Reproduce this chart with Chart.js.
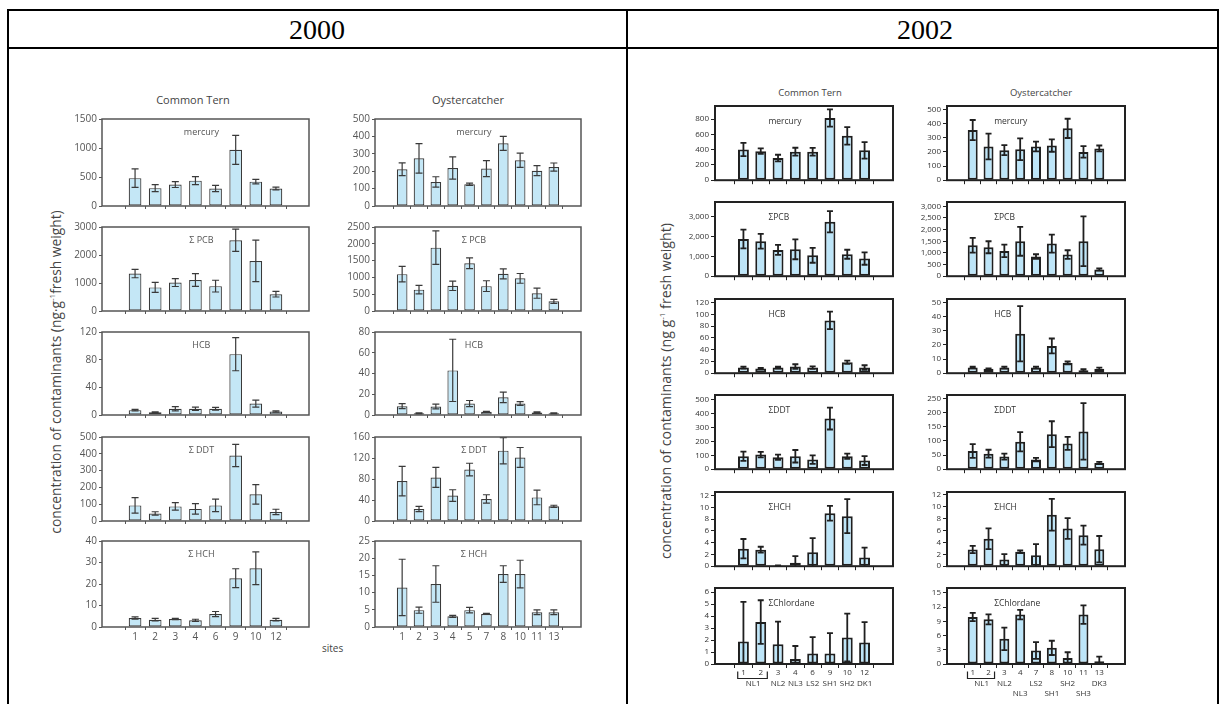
<!DOCTYPE html>
<html>
<head>
<meta charset="utf-8">
<title>Contaminants in Common Tern and Oystercatcher eggs, 2000 and 2002</title>
<script src="https://cdn.jsdelivr.net/npm/chart.js@4.4.1/dist/chart.umd.min.js"></script>
<style>
  html, body { margin: 0; padding: 0; background: #fff; }
  body { position: relative; width: 1225px; height: 704px; overflow: hidden; font-family: "Open Sans", sans-serif; }
  .rule { position: absolute; background: #000; }
  .year { position: absolute; top: 14px; line-height: 32px; font: 28px "Liberation Serif", "Times New Roman", serif; color: #000; transform: translateX(-50%); }
  .bird { position: absolute; transform: translate(-50%, -50%); white-space: nowrap; color: #444; }
  .ytitle { position: absolute; transform: translate(-50%, -50%) rotate(-90deg); white-space: nowrap; color: #444; }
  .sites { position: absolute; left: 322px; top: 641px; font-size: 10px; color: #444; }
  canvas { position: absolute; }
</style>
</head>
<body>

<div class="rule" style="left:7px; top:9px; width:1212px; height:2px"></div>
<div class="rule" style="left:7px; top:47px; width:1212px; height:2px"></div>
<div class="rule" style="left:7px; top:9px; width:2px; height:700px"></div>
<div class="rule" style="left:626px; top:9px; width:2px; height:700px"></div>
<div class="rule" style="left:1217px; top:9px; width:2px; height:700px"></div>
<div class="year" style="left:317px">2000</div>
<div class="year" style="left:925px">2002</div>

<div class="bird" style="left:193px; top:99px; font-size:11px">Common Tern</div>
<div class="bird" style="left:468px; top:99px; font-size:11px">Oystercatcher</div>
<div class="bird" style="left:810px; top:92px; font-size:9.5px">Common Tern</div>
<div class="bird" style="left:1041px; top:92px; font-size:9.5px">Oystercatcher</div>
<div class="ytitle" style="left:55px; top:372px; font-size:13.8px">concentration of contaminants (ng&middot;g<sup style="font-size:8px">-1</sup>fresh weight)</div>
<div class="ytitle" style="left:665px; top:391px; font-size:14.2px">concentration of contaminants (ng g<sup style="font-size:8px">-1</sup> fresh weight)</div>
<div class="sites">sites</div>

<script>
// ---------- 2000 ----------
const ternSites2000 = ['1', '2', '3', '4', '6', '9', '10', '12'];
const oysterSites2000 = ['1', '2', '3', '4', '5', '7', '8', '10', '11', '13'];

const ternMercury2000 = [480, 308, 369, 437, 302, 968, 420, 302];
const ternMercuryErr2000 = [160, 60, 50, 70, 55, 250, 40, 25];
const ternMercuryTicks2000 = [0, 500, 1000, 1500];
const ternPcb2000 = [1338, 842, 1015, 1108, 888, 2527, 1788, 600];
const ternPcbErr2000 = [150, 180, 140, 230, 210, 400, 740, 100];
const ternPcbTicks2000 = [0, 1000, 2000, 3000];
const ternHcb2000 = [7, 4, 9, 9, 9, 88, 16.5, 5];
const ternHcbErr2000 = [1, 0.5, 3, 2.5, 2, 24, 5, 1];
const ternHcbTicks2000 = [0, 40, 80, 120];
const ternDdt2000 = [93, 45, 87, 72, 93, 390, 159, 54];
const ternDdtErr2000 = [46, 10, 22, 31, 37, 66, 58, 16];
const ternDdtTicks2000 = [0, 100, 200, 300, 400, 500];
const ternHch2000 = [4.2, 3.4, 3.7, 3.1, 6.0, 22.7, 27.3, 3.4];
const ternHchErr2000 = [0.5, 0.6, 0.3, 0.5, 1.2, 4.4, 7.6, 0.6];
const ternHchTicks2000 = [0, 10, 20, 30, 40];

const oysterMercury2000 = [211, 274, 138, 218, 125, 215, 360, 263, 203, 224];
const oysterMercuryErr2000 = [37, 85, 30, 64, 7, 46, 40, 41, 29, 23];
const oysterMercuryTicks2000 = [0, 100, 200, 300, 400, 500];
const oysterPcb2000 = [1096, 635, 1885, 750, 1423, 740, 1106, 971, 529, 288];
const oysterPcbErr2000 = [230, 125, 500, 140, 160, 160, 150, 145, 150, 60];
const oysterPcbTicks2000 = [0, 500, 1000, 1500, 2000, 2500];
const oysterHcb2000 = [8.5, 1.6, 8.2, 43, 11, 3.1, 17, 11, 2.5, 1.6];
const oysterHcbErr2000 = [2.4, 0.5, 2.2, 30, 3, 0.5, 5, 1.8, 0.6, 0.5];
const oysterHcbTicks2000 = [0, 20, 40, 60, 80];
const oysterDdt2000 = [76, 23, 83, 48.5, 98, 42, 134, 121, 45, 28];
const oysterDdtErr2000 = [28, 5, 19, 11, 12, 8, 25, 19, 14, 2];
const oysterDdtTicks2000 = [0, 40, 80, 120, 160];
const oysterHch2000 = [11.5, 4.9, 12.5, 3.1, 4.9, 3.8, 15.4, 15.4, 4.3, 4.3];
const oysterHchErr2000 = [8.2, 0.9, 5.3, 0.3, 0.8, 0.15, 2.4, 4, 0.7, 0.7];
const oysterHchTicks2000 = [0, 5, 10, 15, 20, 25];

// ---------- 2002 ----------
const ternSites2002 = ['1', '2', '3', '4', '6', '9', '10', '12'];
const ternCodes2002 = ['NL1', 'NL1', 'NL2', 'NL3', 'LS2', 'SH1', 'SH2', 'DK1'];
const oysterSites2002 = ['1', '2', '3', '4', '7', '8', '10', '11', '13'];
const oysterCodes2002 = ['NL1', 'NL1', 'NL2', 'NL3', 'LS2', 'SH1', 'SH2', 'SH3', 'DK3'];

const ternMercury2002 = [402, 380, 290, 372, 372, 813, 580, 390];
const ternMercuryErr2002 = [87, 35, 43, 52, 50, 112, 115, 108];
const ternMercuryTicks2002 = [0, 200, 400, 600, 800];
const ternPcb2002 = [1867, 1750, 1317, 1350, 1050, 2733, 1100, 883];
const ternPcbErr2002 = [467, 370, 250, 500, 375, 533, 225, 310];
const ternPcbTicks2002 = [0, 500, 1000, 1500, 2000, 2500, 3000, 3500];
const ternHcb2002 = [9.5, 7.9, 9.5, 11.2, 9.5, 89.7, 18.5, 9.5];
const ternHcbErr2002 = [1.7, 1, 1.5, 4, 2.2, 15, 2.8, 4];
const ternHcbTicks2002 = [0, 20, 40, 60, 80, 100, 120];
const ternDdt2002 = [93, 105, 86, 93, 69, 364, 93, 62];
const ternDdtErr2002 = [33, 20, 19, 45, 31, 79, 19, 32];
const ternDdtTicks2002 = [0, 100, 200, 300, 400, 500];
const ternHch2002 = [2.97, 2.8, 0.05, 0.6, 2.36, 9.0, 8.5, 1.46];
const ternHchErr2002 = [1.65, 0.5, 0.1, 1.1, 2.4, 1.25, 2.9, 1.7];
const ternHchTicks2002 = [0, 2, 4, 6, 8, 10, 12];
const ternChlordane2002 = [1.88, 3.5, 1.65, 0.42, 0.87, 0.87, 2.21, 1.8];
const ternChlordaneErr2002 = [3.3, 1.82, 1.88, 1.08, 1.37, 1.7, 2.0, 1.7];
const ternChlordaneTicks2002 = [0, 1, 2, 3, 4, 5, 6];

const oysterMercury2002 = [354, 238, 212, 219, 238, 245, 366, 200, 224];
const oysterMercuryErr2002 = [71, 91, 35, 77, 34, 44, 68, 41, 21];
const oysterMercuryTicks2002 = [0, 100, 200, 300, 400, 500];
const oysterPcb2002 = [1329, 1243, 1086, 1500, 843, 1400, 929, 1500, 286];
const oysterPcbErr2002 = [314, 257, 271, 621, 100, 386, 186, 1071, 50];
const oysterPcbTicks2002 = [0, 500, 1000, 1500, 2000, 2500, 3000];
const oysterHcb2002 = [4.0, 3.1, 4.0, 28, 4.0, 19.3, 7.3, 2.1, 3.1];
const oysterHcbErr2002 = [0.6, 0.3, 0.7, 19.6, 0.7, 5.3, 1, 0.8, 0.8];
const oysterHcbTicks2002 = [0, 10, 20, 30, 40, 50];
const oysterDdt2002 = [64.6, 55, 44.6, 97.4, 34, 124, 91.5, 134, 22.3];
const oysterDdtErr2002 = [24.6, 14, 10.6, 34, 6, 46, 23, 100, 3.5];
const oysterDdtTicks2002 = [0, 50, 100, 150, 200, 250];
const oysterHch2002 = [2.79, 4.58, 1.12, 2.4, 1.84, 8.6, 6.3, 5.19, 2.85];
const oysterHchErr2002 = [0.6, 1.73, 0.9, 0.22, 1.84, 2.65, 1.73, 1.6, 2.2];
const oysterHchTicks2002 = [0, 2, 4, 6, 8, 10, 12];
const oysterChlordane2002 = [9.9, 9.4, 5.3, 10.4, 2.83, 3.4, 1.27, 10.4, 0.57];
const oysterChlordaneErr2002 = [0.88, 1.06, 2.37, 1.0, 1.77, 1.5, 1.2, 1.95, 1.0];
const oysterChlordaneTicks2002 = [0, 3, 6, 9, 12, 15];

Chart.defaults.font.family = '"Open Sans", sans-serif';

/* looks of the two scanned figures */
const look2000 = {
  fill: '#c4e7f6', edge: '#3a3a3a', barLine: 1.2, box: '#555', boxLine: 1.5,
  text: '#555', tickFont: 10, lineHeight: 1.2, nameFont: 9, nameAlign: 'center', nameDy: 13,
  yw: 40, tick: 3, xPad: 1, errLine: 1.2, cap: 3.5, commas: false
};
const look2002 = {
  fill: '#bde5f8', edge: '#1f1f1f', barLine: 2, box: '#222', boxLine: 2,
  text: '#333', tickFont: 8, lineHeight: 1.3, nameFont: 8.5, nameAlign: 'left', nameDy: 16,
  yw: 34, tick: 4, xPad: 0, errLine: 1.8, cap: 3, commas: true
};

/*error bars, drawn on the bars through the y scale*/
const errorBars = {
  id: 'errorBars',
  afterDatasetsDraw(chart, args, opts) {
    const ctx = chart.ctx;
    const y = chart.scales.y;
    const points = chart.data.datasets[0].data;
    ctx.save();
    ctx.strokeStyle = opts.color;
    ctx.lineWidth = opts.lineWidth;
    chart.getDatasetMeta(0).data.forEach((bar, i) => {
      const v = points[i].y;
      const e = opts.errors[i];
      const hi = y.getPixelForValue(v + e);
      const lo = y.getPixelForValue(Math.max(0, v - e));
      ctx.beginPath();
      ctx.moveTo(bar.x, hi);
      ctx.lineTo(bar.x, lo);
      ctx.moveTo(bar.x - opts.cap, hi);
      ctx.lineTo(bar.x + opts.cap, hi);
      if (v - e > 0) {
        ctx.moveTo(bar.x - opts.cap, lo);
        ctx.lineTo(bar.x + opts.cap, lo);
      }
      ctx.stroke();
    });
    ctx.restore();
  }
};

/*plot box, contaminant name and the bracket under grouped sites*/
const frame = {
  id: 'frame',
  afterDraw(chart, args, opts) {
    const ctx = chart.ctx;
    const a = chart.chartArea;
    ctx.save();
    ctx.strokeStyle = opts.color;
    ctx.lineWidth = opts.lineWidth;
    ctx.strokeRect(a.left, a.top, a.right - a.left, a.bottom - a.top);
    ctx.fillStyle = opts.textColor;
    ctx.font = `${opts.nameSize}px "Open Sans", sans-serif`;
    ctx.textAlign = opts.nameAlign;
    ctx.textBaseline = 'middle';
    ctx.fillText(opts.name, a.left + opts.nameAt * (a.right - a.left), a.top + opts.nameDy);

    if (opts.codes) {
      const x = chart.scales.x;
      const codes = opts.codes;
      ctx.font = `${opts.tickSize}px "Open Sans", sans-serif`;
      ctx.textAlign = 'center';
      ctx.lineWidth = 1.2;
      let i = 0;
      while (i < codes.length) {
        let j = i;
        while (j + 1 < codes.length && codes[j + 1] === codes[i]) j++;
        if (j > i) {
          const x0 = x.getPixelForValue(i - 0.33);
          const x1 = x.getPixelForValue(j + 0.38);
          const yb = a.bottom + 14.5;
          ctx.beginPath();
          ctx.moveTo(x0, yb - 7);
          ctx.lineTo(x0, yb);
          ctx.lineTo(x1, yb);
          ctx.lineTo(x1, yb - 7);
          ctx.stroke();
          ctx.fillText(codes[i], (x.getPixelForValue(i) + x.getPixelForValue(j)) / 2 + 1, a.bottom + 20);
        }
        i = j + 1;
      }
    }
    ctx.restore();
  }
};

function siteLabels(sites, codes, levels) {
  return sites.map((s, i) => {
    if (!codes) return s;
    const grouped = codes.filter(c => c === codes[i]).length > 1;
    if (grouped) return [s];
    return levels[i] === 2 ? [s, '', codes[i]] : [s, codes[i]];
  });
}

function makeChart(p) {
  const L = p.look;
  const padTop = 8, padRight = 4;
  const w = L.yw + p.width + padRight;
  const h = padTop + p.height + p.xh;
  const canvas = document.createElement('canvas');
  canvas.width = w;
  canvas.height = h;
  canvas.style.left = (p.left - L.yw) + 'px';
  canvas.style.top = (p.top - padTop) + 'px';
  canvas.style.width = w + 'px';
  canvas.style.height = h + 'px';
  document.body.appendChild(canvas);

  new Chart(canvas, {
    type: 'bar',
    data: {
      datasets: [{
        data: p.values.map((v, i) => ({ x: i, y: v })),
        backgroundColor: L.fill,
        borderColor: L.edge,
        borderWidth: L.barLine,
        borderSkipped: false,
        barPercentage: 0.63,
        categoryPercentage: 1
      }]
    },
    options: {
      responsive: false,
      animation: false,
      devicePixelRatio: 1,
      layout: { padding: { top: padTop, right: padRight, left: 0, bottom: 0 } },
      plugins: {
        legend: { display: false },
        tooltip: { enabled: false },
        errorBars: { errors: p.errors, color: L.edge, lineWidth: L.errLine, cap: L.cap },
        frame: {
          color: L.box, lineWidth: L.boxLine, textColor: L.text, name: p.name,
          nameSize: L.nameFont, nameAlign: L.nameAlign, nameAt: p.nameAt, nameDy: L.nameDy,
          codes: p.labels ? p.codes : null, tickSize: L.tickFont
        }
      },
      scales: {
        x: {
          type: 'linear',
          min: -1,
          max: p.values.length,
          afterBuildTicks: s => { s.ticks = p.values.map((_, i) => ({ value: i })); },
          afterFit: s => { s.height = p.xh; },
          grid: { drawOnChartArea: false, tickLength: L.tick, color: L.box, lineWidth: 1 },
          border: { display: false },
          ticks: {
            autoSkip: false, maxRotation: 0, padding: L.xPad, color: L.text,
            font: { size: L.tickFont, lineHeight: L.lineHeight },
            callback: v => (p.labels ? p.labels[v] : '')
          }
        },
        y: {
          min: 0,
          max: p.max,
          afterBuildTicks: s => { s.ticks = p.ticks.map(v => ({ value: v })); },
          afterFit: s => { s.width = L.yw; },
          grid: { drawOnChartArea: false, tickLength: L.tick, color: L.box, lineWidth: 1 },
          border: { display: false },
          ticks: {
            padding: 2, color: L.text, font: { size: L.tickFont },
            callback: v => (L.commas ? v.toLocaleString('en-US') : String(v))
          }
        }
      }
    },
    plugins: [errorBars, frame]
  });
}

/*2000 figure: five rows, two birds*/
const rows2000 = [
  { name: 'mercury', top: 119, height: 89 },
  { name: 'Σ PCB', top: 227, height: 86 },
  { name: 'HCB', top: 332, height: 85 },
  { name: 'Σ DDT', top: 437, height: 86 },
  { name: 'Σ HCH', top: 541, height: 86 }
];
const cols2000 = [
  {
    left: 102, width: 207, sites: ternSites2000, nameAt: 0.48,
    series: [
      [ternMercury2000, ternMercuryErr2000, ternMercuryTicks2000],
      [ternPcb2000, ternPcbErr2000, ternPcbTicks2000],
      [ternHcb2000, ternHcbErr2000, ternHcbTicks2000],
      [ternDdt2000, ternDdtErr2000, ternDdtTicks2000],
      [ternHch2000, ternHchErr2000, ternHchTicks2000]
    ]
  },
  {
    left: 375, width: 206, sites: oysterSites2000, nameAt: 0.48,
    series: [
      [oysterMercury2000, oysterMercuryErr2000, oysterMercuryTicks2000],
      [oysterPcb2000, oysterPcbErr2000, oysterPcbTicks2000],
      [oysterHcb2000, oysterHcbErr2000, oysterHcbTicks2000],
      [oysterDdt2000, oysterDdtErr2000, oysterDdtTicks2000],
      [oysterHch2000, oysterHchErr2000, oysterHchTicks2000]
    ]
  }
];

/*2002 figure: six rows, two birds*/
const rows2002 = [
  { name: 'mercury', top: 106, height: 75 },
  { name: 'ΣPCB', top: 202, height: 75 },
  { name: 'HCB', top: 299, height: 75 },
  { name: 'ΣDDT', top: 395, height: 75 },
  { name: 'ΣHCH', top: 492, height: 75 },
  { name: 'ΣChlordane', top: 588, height: 76 }
];
const cols2002 = [
  {
    left: 715, width: 178, sites: ternSites2002, codes: ternCodes2002,
    levels: [1, 1, 1, 1, 1, 1, 1, 1], nameAt: 0.30,
    series: [
      [ternMercury2002, ternMercuryErr2002, ternMercuryTicks2002, 970],
      [ternPcb2002, ternPcbErr2002, ternPcbTicks2002, 3720],
      [ternHcb2002, ternHcbErr2002, ternHcbTicks2002, 126],
      [ternDdt2002, ternDdtErr2002, ternDdtTicks2002, 533],
      [ternHch2002, ternHchErr2002, ternHchTicks2002, 12.6],
      [ternChlordane2002, ternChlordaneErr2002, ternChlordaneTicks2002, 6.34]
    ]
  },
  {
    left: 947, width: 178, sites: oysterSites2002, codes: oysterCodes2002,
    levels: [1, 1, 1, 2, 1, 2, 1, 2, 1], nameAt: 0.265,
    series: [
      [oysterMercury2002, oysterMercuryErr2002, oysterMercuryTicks2002, 524],
      [oysterPcb2002, oysterPcbErr2002, oysterPcbTicks2002, 3186],
      [oysterHcb2002, oysterHcbErr2002, oysterHcbTicks2002, 52.6],
      [oysterDdt2002, oysterDdtErr2002, oysterDdtTicks2002, 263],
      [oysterHch2002, oysterHchErr2002, oysterHchTicks2002, 12.4],
      [oysterChlordane2002, oysterChlordaneErr2002, oysterChlordaneTicks2002, 16]
    ]
  }
];

function buildFigure(rows, cols, look, bottomXh) {
  cols.forEach(col => {
    rows.forEach((row, r) => {
      const [values, errors, ticks, max] = col.series[r];
      const last = r === rows.length - 1;
      makeChart({
        look,
        name: row.name,
        top: row.top,
        height: row.height,
        left: col.left,
        width: col.width,
        nameAt: col.nameAt,
        values,
        errors,
        ticks,
        max: max === undefined ? ticks[ticks.length - 1] : max,
        codes: col.codes,
        labels: last ? siteLabels(col.sites, col.codes, col.levels) : null,
        xh: last ? bottomXh : 6
      });
    });
  });
}

buildFigure(rows2000, cols2000, look2000, 22);
buildFigure(rows2002, cols2002, look2002, 40);
</script>
</body>
</html>
